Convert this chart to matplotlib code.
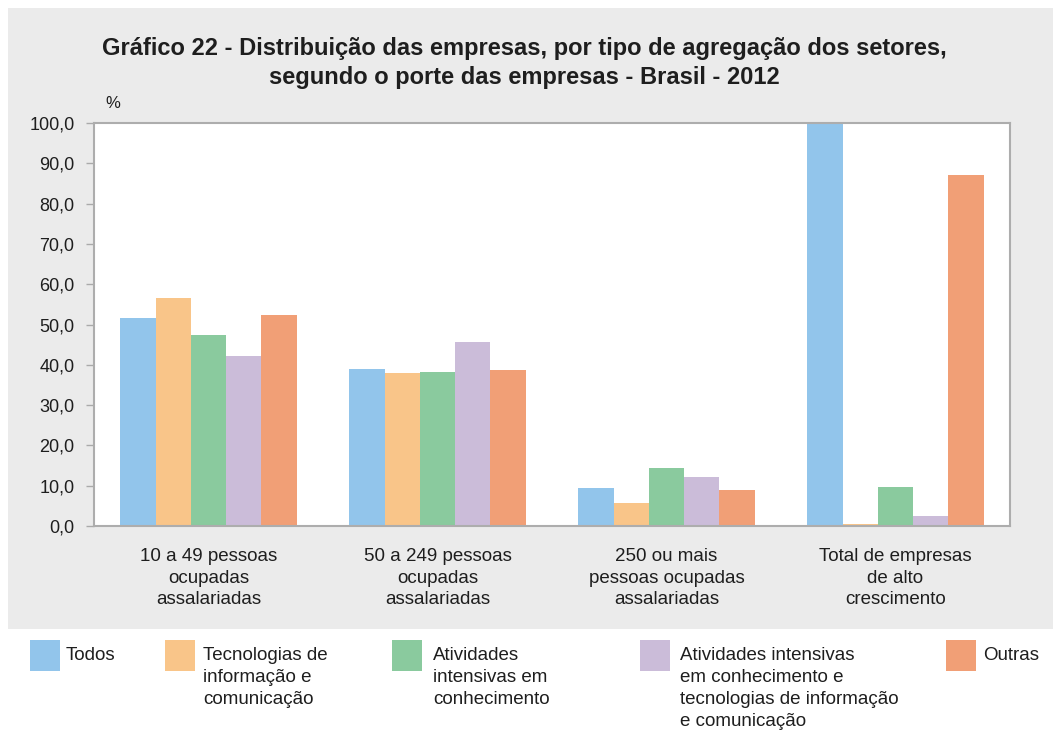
import matplotlib
matplotlib.use("Agg")
import matplotlib.pyplot as plt
from matplotlib.patches import Rectangle
from matplotlib import font_manager
import numpy as np

categories = ["10 a 49 pessoas\nocupadas\nassalariadas",
              "50 a 249 pessoas\nocupadas\nassalariadas",
              "250 ou mais\npessoas ocupadas\nassalariadas",
              "Total de empresas\nde alto\ncrescimento"]
series_names = ["Todos",
                "Tecnologias de\ninformação e\ncomunicação",
                "Atividades\nintensivas em\nconhecimento",
                "Atividades intensivas\nem conhecimento e\ntecnologias de informação\ne comunicação",
                "Outras"]
todos = [51.6, 39.0, 9.4, 100.0]
tecnologias = [56.6, 38.0, 5.7, 0.5]
atividades = [47.4, 38.2, 14.4, 9.7]
ativ_tec = [42.2, 45.7, 12.2, 2.5]
outras = [52.4, 38.7, 8.9, 87.2]
colors = ["#92C5EB", "#F9C589", "#8ACA9E", "#CBBCD9", "#F19F76"]
yticks = [0, 10, 20, 30, 40, 50, 60, 70, 80, 90, 100]
title = ("Gráfico 22 - Distribuição das empresas, por tipo de agregação dos setores,\n"
         "segundo o porte das empresas - Brasil - 2012")

names = {f.name for f in font_manager.fontManager.ttflist}
body_font = "Liberation Sans" if "Liberation Sans" in names else "DejaVu Sans"
title_font = body_font
txt_color = "#1e1e1e"

W, H = 1053, 731
fig = plt.figure(figsize=(W / 100, H / 100), dpi=100)
fig.patch.set_facecolor("white")

# grey panel
fig.patches.append(Rectangle((8 / W, (H - 629) / H), 1 - 8 / W, (629 - 8) / H,
                             transform=fig.transFigure, facecolor="#EBEBEB",
                             edgecolor="none", zorder=-5))

ax = fig.add_axes([94 / W, (H - 526) / H, 916 / W, 403 / H])
ax.set_zorder(2)
ax.set_facecolor("white")

data = [todos, tecnologias, atividades, ativ_tec, outras]
x = np.arange(len(categories))
bw = 0.154
for i, (vals, c) in enumerate(zip(data, colors)):
    ax.bar(x + (i - 2) * bw, vals, width=bw, color=c, edgecolor="none", zorder=2)

ax.set_xlim(-0.5, len(categories) - 0.5)
ax.set_ylim(0, 100)
ax.set_yticks(yticks)
ax.set_yticklabels([f"{v:.1f}".replace(".", ",") for v in yticks],
                   fontsize=13, color=txt_color, family=body_font)
ax.set_xticks(x)
ax.set_xticklabels(categories, fontsize=13.5, color=txt_color, family=body_font,
                   linespacing=1.35)
ax.tick_params(axis="x", length=0, pad=16)
ax.tick_params(axis="y", length=6, color="#AAAAAA", width=1, pad=8)
for s in ax.spines.values():
    s.set_color("#ADADAD")
    s.set_linewidth(1.5)

fig.text(113 / W, 1 - 103 / H, "%", fontsize=12, color=txt_color,
         family=body_font, ha="center", va="center")
fig.text(524 / W, 1 - 63 / H, title, fontsize=17, fontweight="bold",
         color=txt_color, family=title_font, ha="center", va="center",
         linespacing=1.32)

# legend
sq_x = [30, 165, 392, 640, 946]
txt_x = [66, 203, 433, 680, 983]
for sx, tx, name, c in zip(sq_x, txt_x, series_names, colors):
    fig.patches.append(Rectangle((sx / W, (H - 671) / H), 30 / W, 31 / H,
                                 transform=fig.transFigure, facecolor=c,
                                 edgecolor="none"))
    fig.text(tx / W, 1 - 647 / H, name, fontsize=13.5, color=txt_color,
             family=body_font, ha="left", va="top", linespacing=1.38)

fig.savefig("out.png", dpi=100, facecolor="white")
